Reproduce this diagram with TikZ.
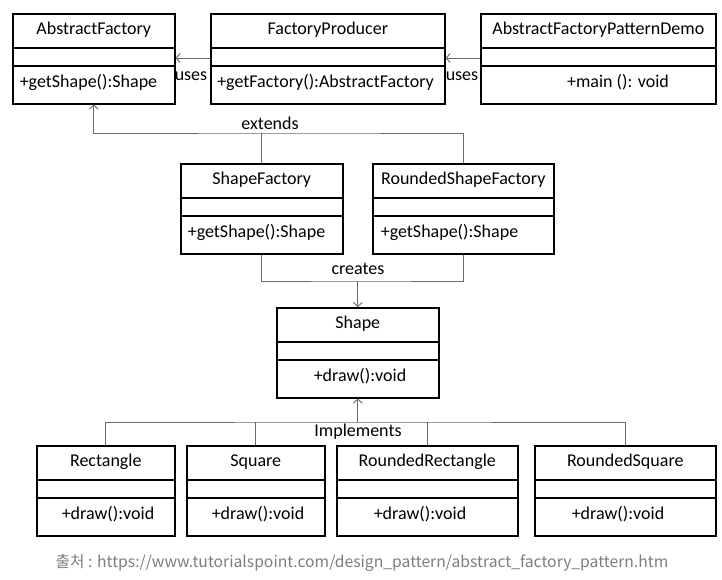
\documentclass[tikz,border=0pt]{standalone}
\usepackage{fontspec}
\setmainfont{Carlito}
\newfontfamily\krfont{Noto Sans CJK KR}
\usepackage{tikz}
\usetikzlibrary{arrows.meta}
\definecolor{linegray}{RGB}{105,105,105}
\definecolor{notegray}{RGB}{125,125,125}

% one class box: name, left, top, width, title, method, method centre x
\newcommand{\umlclass}[7]{%
  \node[classbox,minimum width=#4pt] (#1) at (#2,#3) {};
  \node[classtext] (#1-name) at ([yshift=-21pt]#1.north) {#5};
  \draw[sepline] ([yshift=-35pt]#1.north west) -- ([yshift=-35pt]#1.north east);
  \draw[sepline] ([yshift=-53pt]#1.north west) -- ([yshift=-53pt]#1.north east);
  \node[classtext] (#1-op) at (#7,#3+74) {#6};
}

\begin{document}
\begin{tikzpicture}
[x=1pt,y=-1pt,>={Straight Barb[length=4pt,width=9pt]},
  classbox/.style={draw,line width=1.6pt,anchor=north west,minimum height=90pt,inner sep=0pt},
  classtext/.style={anchor=base,inner sep=0pt,font=\fontsize{18}{21}\selectfont},
  sepline/.style={line width=1.6pt},
  conn/.style={draw=linegray,line width=0.9pt},
  connlabel/.style={anchor=base,inner sep=0pt,font=\fontsize{18}{21}\selectfont}]
  \useasboundingbox (0,0) rectangle (722,579);

  \umlclass{af}{12}{13}{162}{AbstractFactory}{+getShape():Shape}{88.5}
  \umlclass{fp}{210}{13}{234}{FactoryProducer}{+getFactory():AbstractFactory}{325.5}
  \umlclass{demo}{480}{13}{235}{AbstractFactoryPatternDemo}{+main (): void}{618}
  \umlclass{sf}{180}{163}{162}{ShapeFactory}{+getShape():Shape}{256.5}
  \umlclass{rsf}{372}{163}{181}{RoundedShapeFactory}{+getShape():Shape}{449.5}
  \umlclass{shape}{276}{307}{162}{Shape}{+draw():void}{360}
  \umlclass{rect}{36}{445}{138}{Rectangle}{+draw():void}{108}
  \umlclass{sq}{186}{445}{138}{Square}{+draw():void}{258}
  \umlclass{rrect}{336}{445}{181}{RoundedRectangle}{+draw():void}{420}
  \umlclass{rsq}{534}{445}{181}{RoundedSquare}{+draw():void}{618}

  \coordinate (ext) at (300,133);
  \coordinate (cre) at (360,281);
  \coordinate (imp) at (360,422);

  % uses
  \draw[conn,->] ([yshift=-45pt]fp.north west) -- ([yshift=-45pt]af.north east);
  \draw[conn,->] ([yshift=-45pt]demo.north west) -- ([yshift=-45pt]fp.north east);
  \node[connlabel] (uses1) at (191,80) {uses};
  \node[connlabel] (uses2) at (462,80) {uses};

  % extends
  \draw[conn,->] (rsf.north) |- (ext) -| (af.south);
  \draw[conn] (sf.north) -- (sf.north |- ext);
  \node[connlabel] (extends) at (270,129) {extends};

  % creates
  \draw[conn] (sf.south) |- (cre) -| (rsf.south);
  \draw[conn,->] (shape.north |- cre) -- (shape.north);
  \node[connlabel] (creates) at (358,274) {creates};

  % implements
  \draw[conn] (rect.north) |- (imp) -| (rsq.north);
  \draw[conn] (sq.north) -- (sq.north |- imp);
  \draw[conn] (rrect.north) -- (rrect.north |- imp);
  \draw[conn,->] (shape.south |- imp) -- (shape.south);
  \node[connlabel] (implements) at (358,436) {Implements};

  \node[anchor=base,inner sep=0pt,text=notegray,font=\krfont\fontsize{15.7}{17}\selectfont] (source) at (362,567)
    {출처 : https://www.tutorialspoint.com/design\_pattern/abstract\_factory\_pattern.htm};
\end{tikzpicture}
\end{document}
